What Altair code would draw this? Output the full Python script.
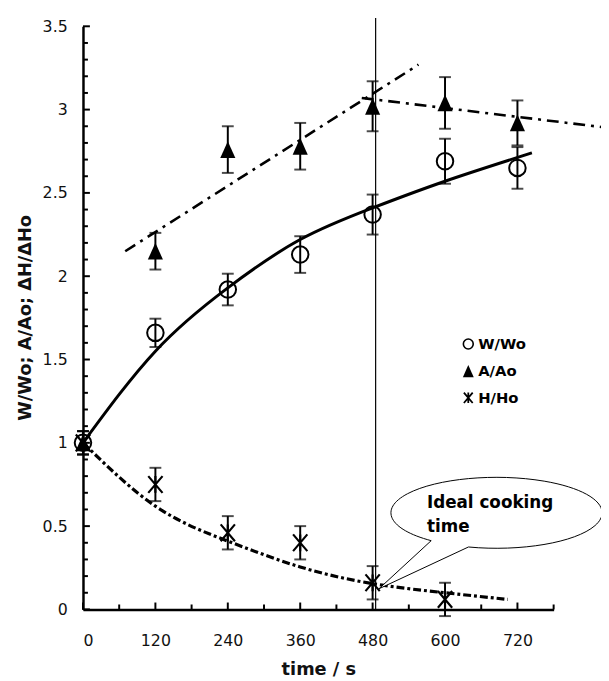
import altair as alt
import pandas as pd

# ---------------- data ----------------
times = [0, 120, 240, 360, 480, 600, 720]
w_mean = [1.00, 1.66, 1.92, 2.13, 2.37, 2.69, 2.65]
w_err = [0.07, 0.085, 0.095, 0.11, 0.12, 0.135, 0.125]
a_mean = [1.00, 2.15, 2.76, 2.78, 3.02, 3.04, 2.92]
a_err = [0.07, 0.11, 0.14, 0.14, 0.15, 0.155, 0.135]
h_times = [0, 120, 240, 360, 480, 600]
h_mean = [1.00, 0.75, 0.46, 0.40, 0.16, 0.06]
h_err = [0.07, 0.10, 0.10, 0.10, 0.10, 0.10]

# fitted curves as drawn
w_fit_t = [0, 120, 240, 360, 480, 600, 744]
w_fit_v = [1.00, 1.55, 1.93, 2.22, 2.41, 2.57, 2.74]
h_fit_t = [0, 120, 240, 360, 480, 600, 704]
h_fit_v = [1.00, 0.62, 0.41, 0.255, 0.155, 0.10, 0.06]
a_line_t = [70, 556, 462, 860]
a_line_v = [2.15, 3.27, 3.07, 2.895]
a_line_id = ["rise", "rise", "fall", "fall"]

series_names = ["W/Wo", "A/Ao", "H/Ho"]
x_tick_values = [0, 120, 240, 360, 480, 600, 720]
x_minor_values = [60, 180, 300, 420, 540, 660, 780]
y_tick_values = [0, 0.5, 1, 1.5, 2, 2.5, 3, 3.5]
y_minor_values = [round(i / 10, 1) for i in range(36) if i % 5 != 0]

ideal_time = 485
callout_lines = ["Ideal cooking", "time"]

# ---------------- frames ----------------
def pts(t, m, e, s):
    return pd.DataFrame({"t": t, "v": m, "lo": [a - b for a, b in zip(m, e)],
                         "hi": [a + b for a, b in zip(m, e)], "s": s})

w_df = pts(times, w_mean, w_err, series_names[0])
a_df = pts(times, a_mean, a_err, series_names[1])
h_df = pts(h_times, h_mean, h_err, series_names[2])
all_df = pd.concat([w_df, a_df, h_df], ignore_index=True)

w_fit = pd.DataFrame({"t": w_fit_t, "v": w_fit_v})
h_fit = pd.DataFrame({"t": h_fit_t, "v": h_fit_v})
a_fit = pd.DataFrame({"t": a_line_t, "v": a_line_v, "g": a_line_id})

FONT = "DejaVu Sans"
xs = alt.Scale(domain=[0, 780], nice=False, zero=False)
ys = alt.Scale(domain=[0, 3.5], nice=False, zero=False)

x_axis = alt.Axis(values=x_tick_values, title="time / s", ticks=False, grid=False,
                  domainColor="black", domainWidth=2.5,
                  labelFont=FONT, labelFontSize=16, labelColor="#111", labelPadding=24,
                  titleFont=FONT, titleFontSize=18, titleFontWeight="bold", titleColor="#111",
                  titleBaseline="alphabetic", titleY=66)
y_axis = alt.Axis(values=y_tick_values, format="~g", title="W/Wo; A/Ao; ΔH/ΔHo", ticks=False,
                  grid=False, domainColor="black", domainWidth=2.5,
                  labelFont=FONT, labelFontSize=16, labelColor="#111", labelPadding=16,
                  titleFont=FONT, titleFontSize=18, titleFontWeight="bold", titleColor="#111",
                  titleAngle=270, titleBaseline="alphabetic", titleAlign="center",
                  titleX=-53, titleY=295)

def X(f="t"):
    return alt.X(f"{f}:Q", scale=xs, axis=x_axis)

def Y(f="v"):
    return alt.Y(f"{f}:Q", scale=ys, axis=y_axis)

TRI = "M 0 -1 L -0.9 1 L 0.9 1 Z"
AST = "M -0.85 -1 L 0.85 1 M -0.85 1 L 0.85 -1 M 0 -1 L 0 1"
BUBBLE = "M -0.264 0.324 A 1 0.336 0 1 0 -0.617 0.264 L -1.112 0.72 Z"

TICK_COLOR = "black"

# axis ticks (inward): short rules placed through the scales, offset in pixels
def x_ticks(vals, length):
    return alt.Chart(pd.DataFrame({"t": vals, "b": 0.0})).mark_rule(
        color=TICK_COLOR, strokeWidth=2, y2Offset=-length
    ).encode(x=X(), y=alt.Y("b:Q", scale=ys, axis=y_axis), y2="b:Q")

def y_ticks(vals, length):
    return alt.Chart(pd.DataFrame({"v": vals, "a": 0.0})).mark_rule(
        color=TICK_COLOR, strokeWidth=2, x2Offset=length
    ).encode(y=Y(), x=alt.X("a:Q", scale=xs, axis=x_axis), x2="a:Q")

# vertical ideal-time line
vline = alt.Chart(pd.DataFrame({"t": [ideal_time], "v0": [0], "v1": [3.55]})).mark_rule(
    color="black", strokeWidth=1.2, clip=False
).encode(x=X(), y=alt.Y("v0:Q", scale=ys, axis=y_axis), y2="v1:Q")

# fitted lines
w_line = alt.Chart(w_fit).mark_line(color="black", strokeWidth=3, interpolate="natural").encode(x=X(), y=Y())
h_line = alt.Chart(h_fit).mark_line(color="black", strokeWidth=3.2, interpolate="natural",
                                    strokeDash=[8, 3, 3, 3]).encode(x=X(), y=Y())
a_lines = alt.Chart(a_fit).mark_line(color="black", strokeWidth=2.6, strokeDash=[12, 6, 3, 6],
                                     clip=False).encode(x=X(), y=Y(), detail="g:N")

# error bars
ebar = alt.Chart(all_df).mark_rule(color="black", strokeWidth=2).encode(
    x=X(), y=alt.Y("lo:Q", scale=ys, axis=y_axis), y2="hi:Q")
cap_lo = alt.Chart(all_df).mark_tick(orient="horizontal", size=12, thickness=2, color="black").encode(
    x=X(), y=alt.Y("lo:Q", scale=ys, axis=y_axis))
cap_hi = alt.Chart(all_df).mark_tick(orient="horizontal", size=12, thickness=2, color="black").encode(
    x=X(), y=alt.Y("hi:Q", scale=ys, axis=y_axis))

# markers
w_pts = alt.Chart(w_df).mark_point(shape="circle", size=280, filled=False, color="black",
                                   strokeWidth=2, opacity=1).encode(x=X(), y=Y())
a_pts = alt.Chart(a_df).mark_point(shape=TRI, size=289, filled=True, color="black",
                                   opacity=1).encode(x=X(), y=Y())
h_pts = alt.Chart(h_df).mark_point(shape=AST, size=289, filled=False, color="black",
                                   strokeWidth=2.2, opacity=1).encode(x=X(), y=Y())

# callout bubble
bubble = alt.Chart(pd.DataFrame({"t": [685], "v": [0.58]})).mark_point(
    shape=BUBBLE, size=45796, filled=True, fill="white", stroke="black", strokeWidth=1,
    opacity=1, fillOpacity=1, strokeOpacity=1, clip=False
).encode(x=X(), y=Y())
bubble_text = alt.Chart(pd.DataFrame({"t": [570, 570], "v": [0.61, 0.462], "txt": callout_lines})).mark_text(
    align="left", baseline="alphabetic", font=FONT, fontSize=17, fontWeight="bold", color="black"
).encode(x=X(), y=Y(), text="txt:N")

# manual legend (positions in plot pixels)
LX, LY0, LDY = 390.5, 322, 27.5
leg_circle = alt.Chart(pd.DataFrame({"s": [series_names[0]]})).mark_point(
    shape="circle", size=100, filled=False, color="black", strokeWidth=1.6, opacity=1
).encode(x=alt.value(LX), y=alt.value(LY0))
leg_tri = alt.Chart(pd.DataFrame({"s": [series_names[1]]})).mark_point(
    shape=TRI, size=150, filled=True, color="black", opacity=1
).encode(x=alt.value(LX), y=alt.value(LY0 + LDY))
leg_ast = alt.Chart(pd.DataFrame({"s": [series_names[2]]})).mark_point(
    shape=AST, size=110, filled=False, color="black", strokeWidth=1.8, opacity=1
).encode(x=alt.value(LX), y=alt.value(LY0 + 2 * LDY - 0.5))

def leg_label(i):
    return alt.Chart(pd.DataFrame({"s": [series_names[i]]})).mark_text(
        align="left", baseline="middle", font=FONT, fontSize=15, fontWeight="bold", color="black"
    ).encode(x=alt.value(LX + 10), y=alt.value(LY0 + i * LDY), text="s:N")

chart = alt.layer(
    vline, w_line, h_line, a_lines, ebar, cap_lo, cap_hi, w_pts, a_pts, h_pts,
    bubble, bubble_text,
    x_ticks(x_tick_values, 7), x_ticks(x_minor_values, 5),
    y_ticks(y_tick_values, 7), y_ticks(y_minor_values, 5),
    leg_circle, leg_tri, leg_ast, leg_label(0), leg_label(1), leg_label(2)
).properties(
    width=477, height=591,
    padding={"left": 76, "top": 14, "right": 48, "bottom": 68},
    autosize=alt.AutoSizeParams(type="none"),
    background="white",
).configure_view(stroke=None)

chart.save("out.html", embed_options={"renderer": "svg", "actions": False})
